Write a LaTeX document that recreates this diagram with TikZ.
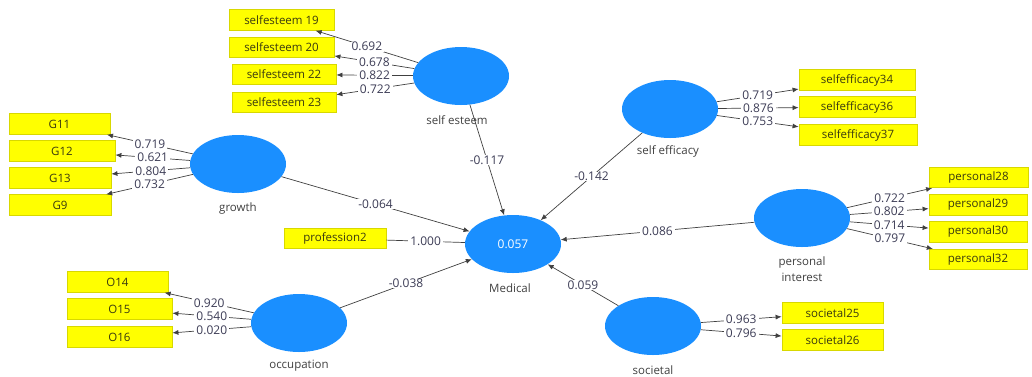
\documentclass[tikz,border=0pt]{standalone}
\usepackage{fontspec}
\setmainfont{Open Sans}
\usetikzlibrary{arrows.meta,shapes.geometric}
\definecolor{lv}{HTML}{1A8FFF}
\definecolor{ind}{HTML}{FFFF00}
\definecolor{indb}{HTML}{D8D800}
\definecolor{indt}{HTML}{3A3A10}
\definecolor{lblt}{HTML}{3C3C55}
\definecolor{ln}{HTML}{404040}
\tikzset{
  lvar/.style={ellipse,fill=lv,draw=none,minimum width=96pt,minimum height=58pt,inner sep=0pt},
  mvar/.style={rectangle,fill=ind,draw=indb,line width=0.8pt,minimum height=20.5pt,inner sep=0pt,font=\fontsize{11.5}{13}\selectfont,text=indt},
  lvname/.style={font=\fontsize{11.5}{13}\selectfont,text=ln,inner sep=0pt},
  lbl/.style={fill=white,inner xsep=2pt,inner ysep=0.5pt,font=\fontsize{12}{13}\selectfont,text=lblt},
  conn/.style={draw=ln,line width=0.7pt,-{Latex[length=6pt,width=5pt]}},
  plain/.style={draw=ln,line width=0.7pt}
}
\begin{document}
\begin{tikzpicture}[x=1pt,y=-1pt]
\useasboundingbox (0,0) rectangle (1032,376);
% latent variables
\node[lvar] (se) at (461,76) {};
\node[lvar] (gr) at (238,164) {};
\node[lvar] (sf) at (670,109) {};
\node[lvar] (pi) at (802,218) {};
\node[lvar] (oc) at (299,323) {};
\node[lvar] (so) at (653,326) {};
\node[lvar,text=white,font=\fontsize{12}{13}\selectfont] (md) at (513,244) {0.057};
% names
\node[lvname] (nse) at (457,120) {self esteem};
\node[lvname] (ngr) at (238,209) {growth};
\node[lvname] (nsf) at (668,151) {self efficacy};
\node[lvname] (npi1) at (802,263) {personal};
\node[lvname] (npi2) at (802,277) {interest};
\node[lvname] (noc) at (299,366) {occupation};
\node[lvname] (nso) at (653,370) {societal};
\node[lvname] (nmd) at (510,288) {Medical};
% indicators
\node[mvar,minimum width=105pt] (se19) at (281.5,20) {selfesteem 19};
\node[mvar,minimum width=105pt] (se20) at (281.5,47.5) {selfesteem 20};
\node[mvar,minimum width=104pt] (se22) at (284,74.5) {selfesteem 22};
\node[mvar,minimum width=104pt] (se23) at (284,102.5) {selfesteem 23};
\node[mvar,minimum width=101pt] (g11) at (59.5,124) {G11};
\node[mvar,minimum width=106pt] (g12) at (62,151) {G12};
\node[mvar,minimum width=102pt] (g13) at (60,178) {G13};
\node[mvar,minimum width=102pt] (g9) at (60,205) {G9};
\node[mvar,minimum width=116pt] (sf34) at (857,80) {selfefficacy34};
\node[mvar,minimum width=116pt] (sf36) at (857,107) {selfefficacy36};
\node[mvar,minimum width=118pt] (sf37) at (858,135) {selfefficacy37};
\node[mvar,minimum width=99pt] (p28) at (978.5,177.5) {personal28};
\node[mvar,minimum width=98pt] (p29) at (978,205) {personal29};
\node[mvar,minimum width=98pt] (p30) at (978,232) {personal30};
\node[mvar,minimum width=98pt] (p32) at (978,259.5) {personal32};
\node[mvar,minimum width=101pt] (o14) at (117.5,282) {O14};
\node[mvar,minimum width=105pt] (o15) at (119.5,309) {O15};
\node[mvar,minimum width=105pt] (o16) at (119.5,337) {O16};
\node[mvar,minimum width=101pt] (s25) at (832.5,313) {societal25};
\node[mvar,minimum width=101pt] (s26) at (832.5,340) {societal26};
\node[mvar,minimum width=102pt] (pr2) at (335,238.5) {profession2};
% outer model
\draw[conn] (se) -- node[lbl]{0.692} (se19);
\draw[conn] (se) -- node[lbl]{0.678} (se20);
\draw[conn] (se) -- node[lbl]{0.822} (se22);
\draw[conn] (se) -- node[lbl]{0.722} (se23);
\draw[conn] (gr) -- node[lbl]{0.719} (g11);
\draw[conn] (gr) -- node[lbl]{0.621} (g12);
\draw[conn] (gr) -- node[lbl]{0.804} (g13);
\draw[conn] (gr) -- node[lbl]{0.732} (g9);
\draw[conn] (sf) -- node[lbl]{0.719} (sf34);
\draw[conn] (sf) -- node[lbl]{0.876} (sf36);
\draw[conn] (sf) -- node[lbl]{0.753} (sf37);
\draw[conn] (pi) -- node[lbl]{0.722} (p28);
\draw[conn] (pi) -- node[lbl]{0.802} (p29);
\draw[conn] (pi) -- node[lbl]{0.714} (p30);
\draw[conn] (pi) -- node[lbl]{0.797} (p32);
\draw[conn] (oc) -- node[lbl]{0.920} (o14);
\draw[conn] (oc) -- node[lbl]{0.540} (o15);
\draw[conn] (oc) -- node[lbl]{0.020} (o16);
\draw[conn] (so) -- node[lbl]{0.963} (s25);
\draw[conn] (so) -- node[lbl]{0.796} (s26);
% inner model
\draw[conn] (se) -- node[lbl]{-0.117} (md);
\draw[conn] (gr) -- node[lbl]{-0.064} (md);
\draw[conn] (sf) -- node[lbl]{-0.142} (md);
\draw[conn] (pi) -- node[lbl]{0.086} (md);
\draw[conn] (oc) -- node[lbl]{-0.038} (md);
\draw[conn] (so) -- node[lbl]{0.059} (md);
\draw[plain] (pr2) -- node[lbl]{1.000} (md);
\end{tikzpicture}
\end{document}
